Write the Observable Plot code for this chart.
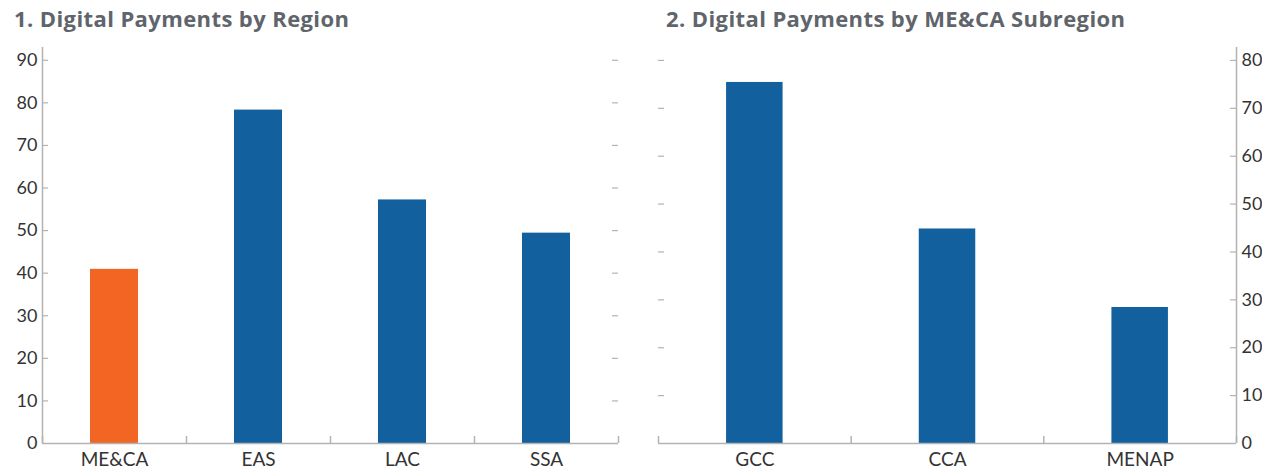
<!DOCTYPE html>
<html>
<head>
<meta charset="utf-8">
<script src="https://cdn.jsdelivr.net/npm/d3@7"></script>
<script src="https://cdn.jsdelivr.net/npm/@observablehq/plot@0.6"></script>
<style>
  html, body { margin: 0; padding: 0; background: #fff; }
  #wrap { position: relative; width: 1262px; height: 473px; overflow: hidden; font-family: Lato, "Open Sans", sans-serif; }
  .title { position: absolute; top: 3px; font-family: "Open Sans", Lato, sans-serif; font-size: 22px; font-weight: bold; letter-spacing: 0.4px; color: #60646b; white-space: nowrap; }
  .panel { position: absolute; top: 40px; }
</style>
</head>
<body>
<div id="wrap">
  <div class="title" id="t1" style="left:14px">1. Digital Payments by Region</div>
  <div class="title" id="t2" style="left:666px">2. Digital Payments by ME&amp;CA Subregion</div>
  <div class="panel" id="p1" style="left:0px"></div>
  <div class="panel" id="p2" style="left:631px"></div>
</div>
<script>
// Panel 1 data
const regions = ["ME&CA", "EAS", "LAC", "SSA"];
const regionValues = [40.9, 78.3, 57.2, 49.4];
const regionTicks = [0, 10, 20, 30, 40, 50, 60, 70, 80, 90];

// Panel 2 data
const subregions = ["GCC", "CCA", "MENAP"];
const subregionValues = [75.4, 44.8, 28.4];
const subregionTicks = [0, 10, 20, 30, 40, 50, 60, 70, 80];

const BLUE = "#13609e";
const ORANGE = "#f26522";
const AXIS = "#b3b3b3";
const TEXT = "#333333";

function panel({cats, values, ticks, yMax, side, highlight, marginLeft, marginRight}) {
  const width = 631, height = 433, marginTop = 7, marginBottom = 30;
  const plotW = width - marginLeft - marginRight;
  const plotH = height - marginTop - marginBottom;
  const n = cats.length;
  const idx = d3.range(n);
  const tickLen = 6;
  const axisSide = side;
  const otherSide = side === "left" ? "right" : "left";
  return Plot.plot({
    width, height, marginTop, marginBottom, marginLeft, marginRight,
    style: {fontFamily: "Lato, 'Open Sans', sans-serif", fontSize: "18px", color: TEXT, background: "white"},
    x: {domain: [0, n], axis: null},
    y: {domain: [0, yMax], axis: null},
    marks: [
      Plot.rectY(idx, {
        x1: i => i + 1/3 + (n === 3 ? 0.02 : 0),
        x2: i => i + 2/3 - (n === 3 ? 0.02 : 0),
        y1: 0,
        y2: i => values[i],
        fill: i => cats[i] === highlight ? ORANGE : BLUE
      }),
      Plot.ruleX([axisSide === "left" ? 0 : n], {stroke: AXIS, strokeWidth: 1.5}),
      Plot.ruleY([0], {stroke: AXIS, strokeWidth: 1.5}),
      Plot.tickX(d3.range(n + 1), {x: d => d, stroke: AXIS, strokeWidth: 1.5, insetTop: plotH - 7}),
      Plot.tickY(ticks.filter(t => t > 0), {y: d => d, stroke: AXIS, strokeWidth: 1.2,
        ...(axisSide === "left" ? {insetRight: plotW - tickLen} : {insetLeft: plotW - tickLen})}),
      Plot.tickY(ticks.filter(t => t > 0), {y: d => d, stroke: AXIS, strokeWidth: 1.2,
        ...(otherSide === "left" ? {insetRight: plotW - tickLen} : {insetLeft: plotW - tickLen})}),
      Plot.axisY({anchor: axisSide, ticks, tickSize: 0, tickPadding: 5, tickFormat: d => String(d), fontSize: 18, fill: TEXT}),
      Plot.axisX({ticks: idx.map(i => i + 0.5), tickFormat: t => cats[Math.floor(t)], tickSize: 0, tickPadding: 9, fontSize: 19, fill: TEXT})
    ]
  });
}

document.getElementById("p1").appendChild(panel({
  cats: regions, values: regionValues, ticks: regionTicks, yMax: 93.0,
  side: "left", highlight: "ME&CA", marginLeft: 42, marginRight: 13
}));
document.getElementById("p2").appendChild(panel({
  cats: subregions, values: subregionValues, ticks: subregionTicks, yMax: 82.7,
  side: "right", highlight: null, marginLeft: 27, marginRight: 26
}));
</script>
</body>
</html>
